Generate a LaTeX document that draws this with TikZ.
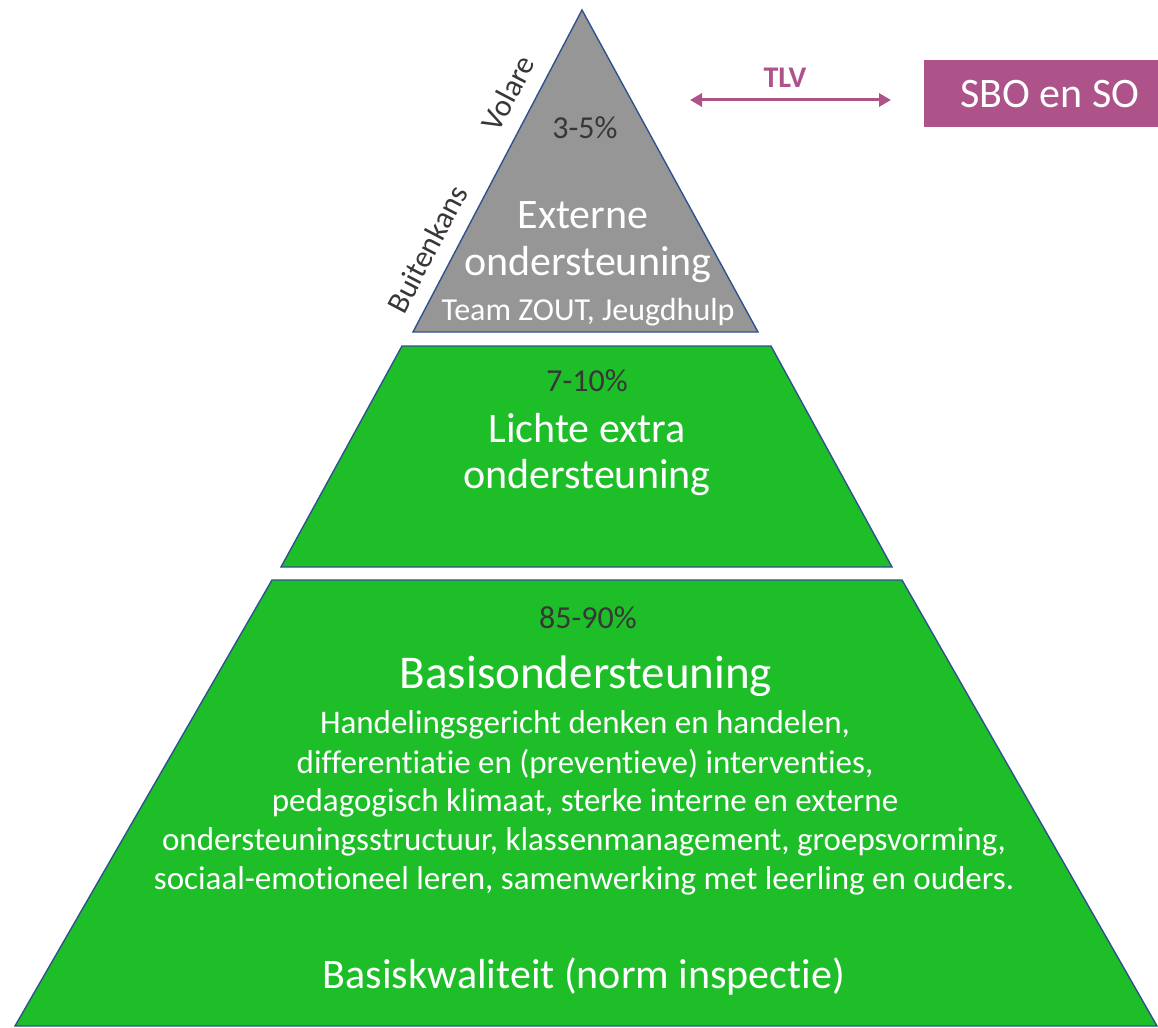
\documentclass[tikz,border=0pt]{standalone}
\usepackage{fontspec}
\setmainfont[RawFeature={-liga;-clig}]{Carlito}
\usetikzlibrary{arrows.meta}
\definecolor{lvgreen}{RGB}{29,190,40}
\definecolor{lvgray}{RGB}{150,150,150}
\definecolor{lvedge}{RGB}{47,82,143}
\definecolor{lvpink}{RGB}{173,83,137}
\definecolor{lvdark}{RGB}{55,55,55}
\begin{document}
\begin{tikzpicture}[x=1pt,y=-1pt,
  layer/.style={draw=lvedge,line width=1.4pt,line join=miter},
  txt/.style={inner sep=0pt,text=white,align=center},
  fs/.style={font=\fontsize{#1}{#1}\selectfont},
  pct/.style={inner sep=0pt,text=lvdark,font=\fontsize{32}{32}\selectfont},
  side/.style={inner sep=0pt,text=lvdark,font=\fontsize{31}{31}\selectfont,rotate=62.3}]
\useasboundingbox (0,0) rectangle (1158,1027);
% layers
\draw[layer,fill=lvgray] (582,10) -- (758,332) -- (413,332) -- cycle;
\draw[layer,fill=lvgreen] (402,346) -- (771,346) -- (892,567) -- (281,567) -- cycle;
\draw[layer,fill=lvgreen] (272,580) -- (902,580) -- (1157,1026) -- (15,1026) -- cycle;
% top
\node[side] (volare) at (508,93) {Volare};
\node[side] (buiten) at (427,249) {Buitenkans};
\node[pct] (p1) at (585,128) {3-5\%};
\node[txt,fs=42] (ext) at (583,215) {Externe};
\node[txt,fs=42] (ond1) at (588,265) {ondersteuning};
\node[txt,fs=32] (team) at (588,312) {Team ZOUT, Jeugdhulp};
% middle
\node[pct] (p2) at (587,381) {7-10\%};
\node[txt,fs=42] (licht) at (587,428) {Lichte extra};
\node[txt,fs=42] (ond2) at (587,478) {ondersteuning};
% bottom
\node[pct] (p3) at (588,618) {85-90\%};
\node[txt,fs=47] (basis) at (586,676) {Basisondersteuning};
\node[txt,fs=33] (l1) at (585,725) {Handelingsgericht denken en handelen,};
\node[txt,fs=33] (l2) at (585,764) {differentiatie en (preventieve) interventies,};
\node[txt,fs=33] (l3) at (585,803) {pedagogisch klimaat, sterke interne en externe};
\node[txt,fs=33] (l4) at (584,842) {ondersteuningsstructuur, klassenmanagement, groepsvorming,};
\node[txt,fs=33] (l5) at (584,881) {sociaal-emotioneel leren, samenwerking met leerling en ouders.};
\node[txt,fs=42] (kwal) at (584,977) {Basiskwaliteit (norm inspectie)};
% TLV arrow and box
\coordinate (tlvL) at (690,100);
\coordinate (tlvR) at (891,100);
\draw[lvpink,line width=3pt,{Triangle[length=12pt,width=13pt]}-{Triangle[length=12pt,width=13pt]}] (tlvL) -- (tlvR);
\node[inner sep=0pt,text=lvpink,font=\fontsize{30}{30}\selectfont\bfseries] (tlv) at (785,78) {TLV};
\node[fill=lvpink,minimum width=234pt,minimum height=67pt,inner sep=0pt,text=white,font=\fontsize{42}{42}\selectfont] (sbo) at (1041,94) {\hspace*{18pt}SBO en SO};
\end{tikzpicture}
\end{document}
